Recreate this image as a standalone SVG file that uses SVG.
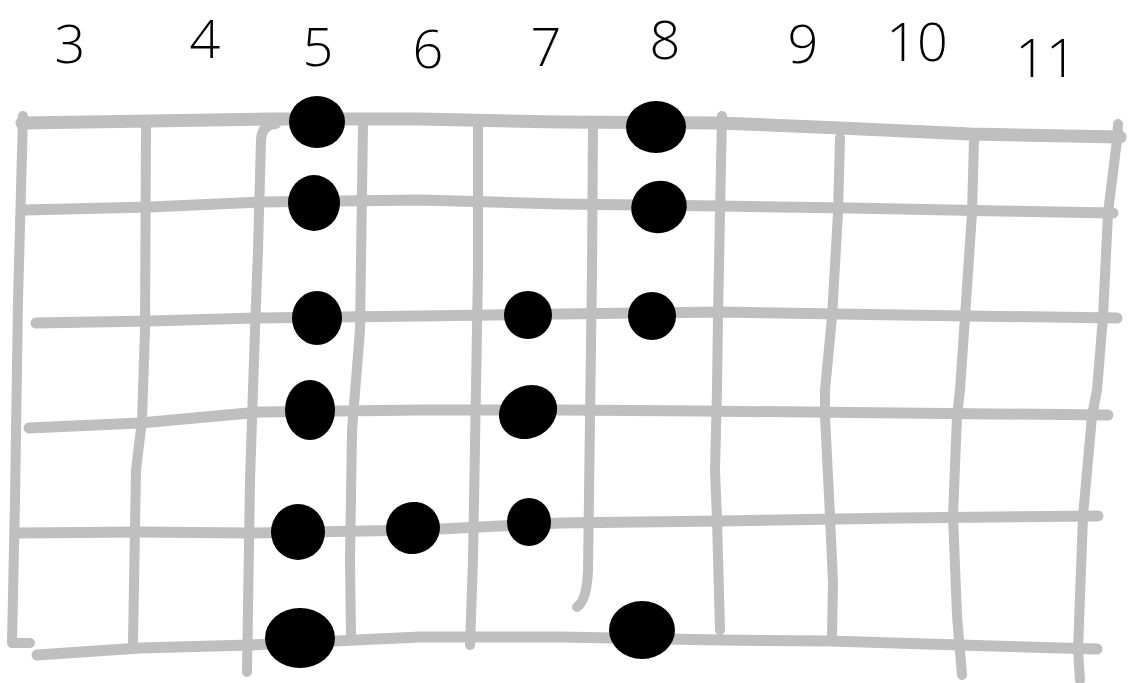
<svg xmlns="http://www.w3.org/2000/svg" width="1135" height="683" viewBox="0 0 1135 683">
<style>
.ln{fill:none;stroke:#bfbfbf;stroke-linecap:round;stroke-linejoin:round}
.s{stroke-width:11}
.f{stroke-width:10}
.dot{fill:#000}
.lbl{font-family:"Open Sans","Liberation Sans",sans-serif;font-weight:300;font-size:54px;fill:#000;text-anchor:middle}
</style>
<rect width="1135" height="683" fill="#fff"/>
<g id="strings">
<polyline class="ln s" style="stroke-width:13" points="22,123 150,121 270,119 420,119 560,122 720,123 840,128 970,134 1120,137"/>
<polyline class="ln s" points="24,210 150,207 260,202 420,200 560,204 720,206 850,208 1000,211 1113,213"/>
<polyline class="ln s" points="36,323 150,321 260,318 420,316 560,314 720,312 900,315 1117,318"/>
<polyline class="ln s" points="29,428 140,423 260,412 420,410 560,410 700,411 900,413 1108,415"/>
<polyline class="ln s" points="18,533 140,532 250,533 420,530 560,523 720,521 900,518 1098,516"/>
<polyline class="ln s" points="37,655 140,648 250,645 420,637 560,637 720,640 830,641 960,645 1097,649"/>
</g>
<g id="frets">
<polyline class="ln f" points="23,116 18,300 15,500 12,643 30,643"/>
<polyline class="ln f" points="146,127 145,330 142,420 136,470 133,643"/>
<path class="ln f" d="M276,124 Q262,124 261,140 L258,250 L255,330 L250,480 L247,672"/>
<polyline class="ln f" points="363,124 360,330 352,430 350,560 351,637"/>
<polyline class="ln f" points="478,126 478,270 473,560 470,645"/>
<path class="ln f" d="M593,124 L592,270 L588,570 Q587,600 577,607"/>
<polyline class="ln f" points="722,116 720,213 718,317 717,390 715,470 717,520 720,630"/>
<polyline class="ln f" points="840,138 838,213 832,317 825,390 825,416 830,516 833,583 832,635"/>
<polyline class="ln f" points="974,140 972,213 965,317 960,390 957,416 953,516 957,616 962,675"/>
<polyline class="ln f" points="1118,124 1117,140 1108,213 1103,317 1097,390 1092,416 1083,516 1078,650 1080,680"/>
</g>
<g id="dots">
<ellipse class="dot" cx="317" cy="122" rx="28" ry="26"/>
<ellipse class="dot" cx="314" cy="203" rx="26" ry="28"/>
<ellipse class="dot" cx="317" cy="318" rx="25" ry="27"/>
<ellipse class="dot" cx="310" cy="410" rx="25" ry="30"/>
<ellipse class="dot" cx="298" cy="532" rx="27" ry="28"/>
<ellipse class="dot" cx="300" cy="638" rx="35" ry="30"/>
<ellipse class="dot" cx="413" cy="528" rx="27" ry="26" transform="rotate(-15 413 528)"/>
<ellipse class="dot" cx="528" cy="315" rx="24" ry="24"/>
<ellipse class="dot" cx="528" cy="412" rx="30" ry="26" transform="rotate(-30 528 412)"/>
<ellipse class="dot" cx="529" cy="522" rx="22" ry="24"/>
<ellipse class="dot" cx="656" cy="127" rx="30" ry="26"/>
<ellipse class="dot" cx="659" cy="207" rx="28" ry="26" transform="rotate(-20 659 207)"/>
<ellipse class="dot" cx="652" cy="316" rx="24" ry="24"/>
<ellipse class="dot" cx="642" cy="630" rx="33" ry="29"/>
</g>
<g id="labels">
<text class="lbl" x="70" y="63">3</text>
<text class="lbl" x="205" y="58">4</text>
<text class="lbl" x="318" y="66">5</text>
<text class="lbl" x="428" y="68">6</text>
<text class="lbl" x="546" y="66">7</text>
<text class="lbl" x="665" y="59">8</text>
<text class="lbl" x="803" y="63">9</text>
<text class="lbl" x="917" y="61">10</text>
<text class="lbl" x="1046" y="77">11</text>
</g>
</svg>
